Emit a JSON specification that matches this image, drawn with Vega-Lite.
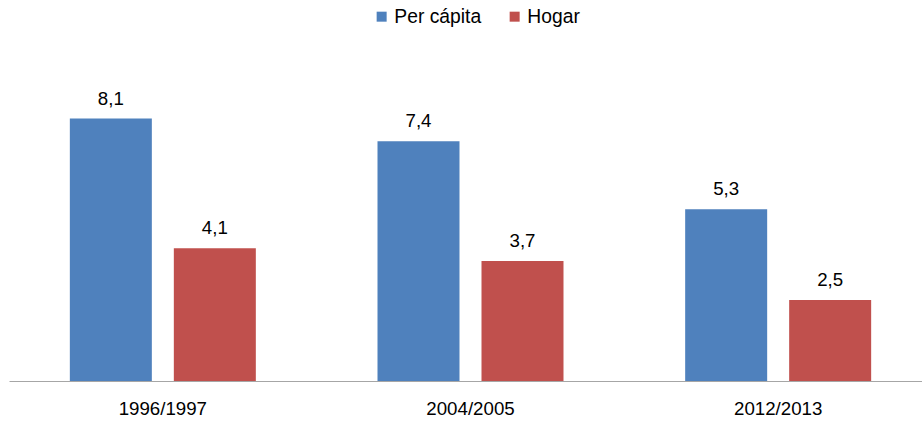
{
  "$schema": "https://vega.github.io/schema/vega-lite/v6.json",
  "width": 923,
  "height": 324,
  "autosize": {"type": "none"},
  "padding": {"left": 9, "top": 57, "right": 0, "bottom": 42},
  "background": "white",
  "data": {
    "values": [
      {"periodo": "1996/1997", "serie": "Per cápita", "valor": 8.1, "etiqueta": "8,1"},
      {"periodo": "1996/1997", "serie": "Hogar", "valor": 4.1, "etiqueta": "4,1"},
      {"periodo": "2004/2005", "serie": "Per cápita", "valor": 7.4, "etiqueta": "7,4"},
      {"periodo": "2004/2005", "serie": "Hogar", "valor": 3.7, "etiqueta": "3,7"},
      {"periodo": "2012/2013", "serie": "Per cápita", "valor": 5.3, "etiqueta": "5,3"},
      {"periodo": "2012/2013", "serie": "Hogar", "valor": 2.5, "etiqueta": "2,5"}
    ]
  },
  "encoding": {
    "x": {
      "field": "periodo",
      "type": "nominal",
      "scale": {"paddingInner": 0, "paddingOuter": 0},
      "axis": {
        "title": null,
        "labelAngle": 0,
        "ticks": false,
        "domainColor": "#A6A6A6",
        "domainWidth": 1,
        "labelFont": "Liberation Sans",
        "labelFontSize": 18.7,
        "labelColor": "#000000",
        "labelPadding": 18.5
      }
    },
    "xOffset": {
      "field": "serie",
      "type": "nominal",
      "sort": ["Per cápita", "Hogar"],
      "scale": {"paddingInner": 0.2115, "paddingOuter": 0.585}
    },
    "y": {
      "field": "valor",
      "type": "quantitative",
      "scale": {"domain": [0, 10], "nice": false},
      "axis": null
    }
  },
  "layer": [
    {
      "mark": {"type": "bar"},
      "encoding": {
        "color": {
          "field": "serie",
          "type": "nominal",
          "sort": ["Per cápita", "Hogar"],
          "scale": {"domain": ["Per cápita", "Hogar"], "range": ["#4F81BD", "#C0504D"]},
          "legend": {
            "title": null,
            "orient": "none",
            "legendX": 363,
            "legendY": -50,
            "direction": "horizontal",
            "symbolType": "square",
            "symbolSize": 100,
            "symbolStrokeWidth": 0,
            "labelFont": "Liberation Sans",
            "labelFontSize": 19.3,
            "labelColor": "#000000",
            "labelOffset": 3,
            "columnPadding": 23
          }
        }
      }
    },
    {
      "mark": {
        "type": "text",
        "baseline": "alphabetic",
        "dy": -14,
        "font": "Liberation Sans",
        "fontSize": 18.7,
        "color": "#000000"
      },
      "encoding": {
        "text": {"field": "etiqueta"}
      }
    }
  ],
  "config": {
    "view": {"stroke": null}
  }
}
